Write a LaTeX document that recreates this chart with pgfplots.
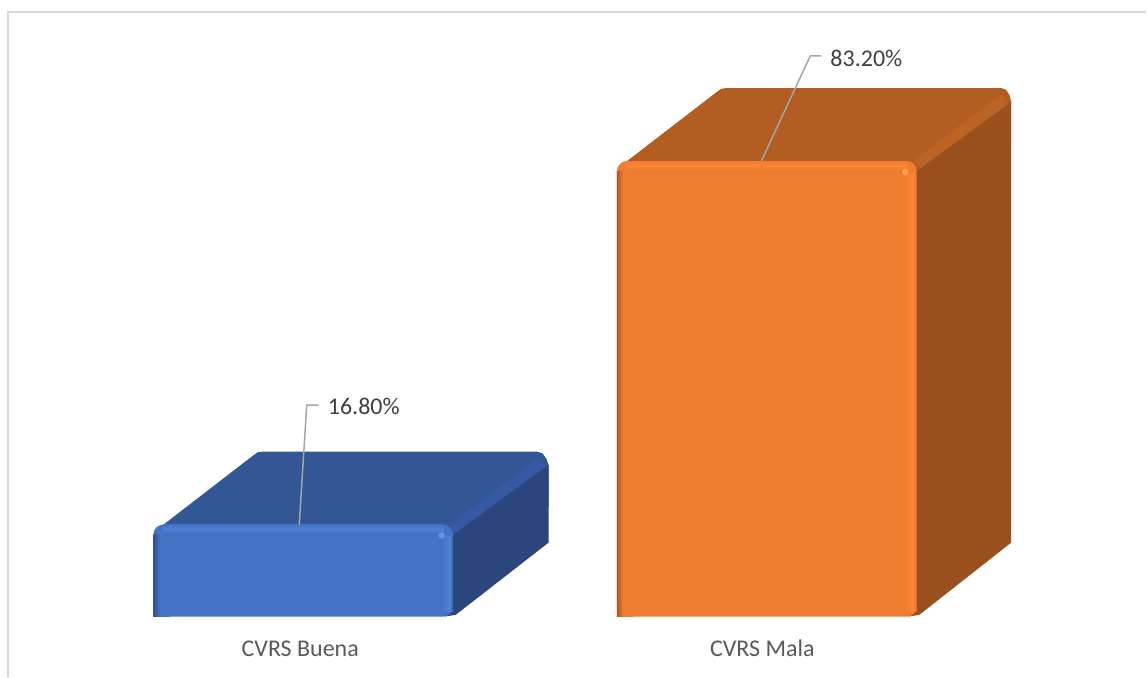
\documentclass[border=0pt]{standalone}
\usepackage{fontspec}
\setmainfont{Carlito}
\usepackage{pgfplots}
\pgfplotsset{compat=1.18}
\definecolor{bfront}{HTML}{4472C4}
\definecolor{btop}{HTML}{335694}
\definecolor{bside}{HTML}{2A467C}
\definecolor{bridge}{HTML}{3559A2}
\definecolor{blight}{HTML}{4F80D4}
\definecolor{bhi}{HTML}{6594E4}
\definecolor{bdark}{HTML}{2F5190}
\definecolor{ofront}{HTML}{EE7D31}
\definecolor{otop}{HTML}{B25D21}
\definecolor{oside}{HTML}{9A501C}
\definecolor{oridge}{HTML}{BC6326}
\definecolor{olight}{HTML}{FF8533}
\definecolor{ohi}{HTML}{FFA050}
\definecolor{odark}{HTML}{A9591F}
\begin{document}
\begin{tikzpicture}
\begin{axis}[
  scale only axis, width=1147pt, height=677pt,
  xmin=0, xmax=1147, ymin=-10.949, ymax=112.591,
  axis line style={draw=none}, major tick length=0pt,
  ytick=\empty, xtick={300.5,763},
  xticklabels={CVRS Buena,CVRS Mala},
  xticklabel style={anchor=center, yshift=28pt, font=\fontsize{24}{28}\selectfont, text=black!65},
  clip=false]
% frame
\addplot[draw=black!15, line width=2pt] coordinates {(8,-10.949) (8,110.4) (1147,110.4)};
% blue top and side
\addplot[fill=btop, draw=none, forget plot] coordinates {(158,16) (254,29.5) (258,30) (263,30.11) (538,30.11) (543,29.8) (547,28.8) (549,27.6) (549,20) (453,15)} --cycle;
\addplot[fill=bside, draw=none, forget plot] coordinates {(445,13.86) (549,27.74) (549,13.5) (456,0.3) (445,0)} --cycle;
\addplot[fill=bridge, draw=none, forget plot] coordinates {(450,16.79) (538,28.96) (546,27.34) (456,15.33)} --cycle;
% blue front
\addplot[ybar, bar width=300, bar shift=0pt, fill=bfront, draw=none, rounded corners=10pt] coordinates {(303.5,16.8)};
\addplot[fill=bfront, draw=none] coordinates {(153.5,0) (170,0) (170,4) (153.5,4)} --cycle;
\addplot[draw=none, left color=bdark, right color=bfront] coordinates {(153.5,0) (159.5,0) (159.5,14.9) (153.5,14.9)} --cycle;
\addplot[draw=none, left color=bfront, right color=blight] coordinates {(441,1) (450,1) (450,14.6) (441,14.6)} --cycle;
\addplot[draw=none, left color=blight, right color=bfront!85!black] coordinates {(450,1) (453.5,1) (453.5,14.6) (450,14.6)} --cycle;
\addplot[draw=none, top color=bfront, bottom color=bfront, middle color=blight] coordinates {(163,16.8) (444,16.8) (444,15.2) (163,15.2)} --cycle;
\addplot[only marks, mark=*, mark size=3pt, mark options={draw=bhi, fill=bhi}] coordinates {(442,14.8)};
% orange top and side
\addplot[fill=otop, draw=none, forget plot] coordinates {(622,82.4) (718,95.9) (722,96.4) (727,96.53) (1002,96.53) (1007,96.2) (1010.5,95.2) (1012,94) (1012,86.4) (917,81.4)} --cycle;
\addplot[fill=oside, draw=none, forget plot] coordinates {(909,80.26) (1012,94.14) (1012,13.5) (920,0.3) (909,0)} --cycle;
\addplot[fill=oridge, draw=none, forget plot] coordinates {(914,83.19) (1002,95.36) (1010,93.74) (920,81.73)} --cycle;
% orange front
\addplot[ybar, bar width=300, bar shift=0pt, fill=ofront, draw=none, rounded corners=10pt] coordinates {(767.5,83.2)};
\addplot[fill=ofront, draw=none] coordinates {(617.5,0) (634,0) (634,4) (617.5,4)} --cycle;
\addplot[draw=none, left color=odark, right color=ofront] coordinates {(617.5,0) (623.5,0) (623.5,81.3) (617.5,81.3)} --cycle;
\addplot[draw=none, left color=ofront, right color=olight] coordinates {(905,1) (914,1) (914,81) (905,81)} --cycle;
\addplot[draw=none, left color=olight, right color=ofront!88!black] coordinates {(914,1) (917.5,1) (917.5,81) (914,81)} --cycle;
\addplot[draw=none, top color=ofront, bottom color=ofront, middle color=olight] coordinates {(627,83.2) (908,83.2) (908,81.6) (627,81.6)} --cycle;
\addplot[only marks, mark=*, mark size=3pt, mark options={draw=ohi, fill=ohi}] coordinates {(906,81.2)};
% leaders
\addplot[draw=black!35, line width=1.5pt] coordinates {(299.5,16.8) (307,38.6) (319,38.6)};
\addplot[draw=black!35, line width=1.5pt] coordinates {(762,83.2) (811,102.4) (822,102.4)};
\node[anchor=west, inner sep=0pt, font=\fontsize{24}{28}\selectfont, text=black!75] at (axis cs:328,38.3) {16.80\%};
\node[anchor=west, inner sep=0pt, font=\fontsize{24}{28}\selectfont, text=black!75] at (axis cs:831,102) {83.20\%};
\end{axis}
\end{tikzpicture}
\end{document}
